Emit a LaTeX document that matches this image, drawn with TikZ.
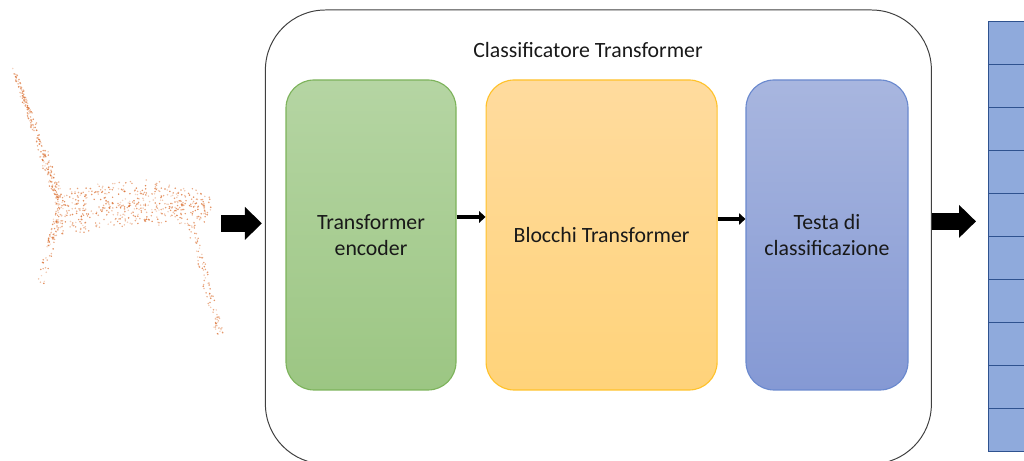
\documentclass[tikz,border=0pt]{standalone}
\usepackage{fontspec}
\setmainfont{Carlito}
\usepackage{tikz}
\usetikzlibrary{arrows.meta,positioning,calc}

\definecolor{encfill1}{HTML}{B5D5A3}
\definecolor{encfill2}{HTML}{9CC683}
\definecolor{encline}{HTML}{7DB35B}
\definecolor{blkfill1}{HTML}{FFDB9E}
\definecolor{blkfill2}{HTML}{FFD37A}
\definecolor{blkline}{HTML}{FFC22A}
\definecolor{headfill1}{HTML}{A8B6DF}
\definecolor{headfill2}{HTML}{8599D4}
\definecolor{headline}{HTML}{6A89CE}
\definecolor{cellfill}{HTML}{8FAADC}
\definecolor{cellline}{HTML}{2F528F}
\definecolor{dotc}{RGB}{218,112,50}

\begin{document}
\begin{tikzpicture}[
    outerbox/.style={draw=black!75, line width=0.7pt, rounded corners=1.5cm,
        minimum width=16.65cm, minimum height=11.35cm},
    block/.style={rounded corners=0.7cm, line width=0.8pt, minimum height=7.75cm,
        align=center, font=\fontsize{15.5}{19}\selectfont, text=black!90},
    cell/.style={draw=cellline, fill=cellfill, line width=0.7pt,
        minimum width=2cm, minimum height=1.075cm},
    bigarrow/.style={line width=0.425cm, -{Triangle[length=0.425cm, width=0.8cm]}},
    smallarrow/.style={line width=3.5pt, -{Triangle[length=4.5pt, width=8pt]}},
    dot/.style={fill=dotc}
]
    \useasboundingbox (0,0) rectangle (25.6,11.525);

    % point cloud (pixel-like units, y downwards)
    \begin{scope}[x=0.025cm, y=-0.025cm, shift={(0,-461)}]
        \pgfmathsetseed{4217}
        % backrest
        \foreach \k in {1,...,240}{
            \pgfmathsetmacro{\t}{rnd}
            \pgfmathsetmacro{\px}{14+48*\t+(2+5*\t)*(rand+rand)/2}
            \pgfmathsetmacro{\py}{70+137*\t+3*rand}
            \pgfmathsetmacro{\op}{0.25+0.6*rnd}
            \fill[dot, fill opacity=\op] (\px,\py) circle (0.6pt);
        }
        % seat
        \foreach \k in {1,...,520}{
            \pgfmathsetmacro{\u}{rnd}
            \pgfmathsetmacro{\ytop}{196-13*sin(180*\u)}
            \pgfmathsetmacro{\ybot}{238-15*\u-6*sin(180*\u)}
            \pgfmathsetmacro{\px}{55+155*\u+2*rand}
            \pgfmathsetmacro{\py}{\ytop+(\ybot-\ytop)*rnd+4*rand}
            \pgfmathsetmacro{\op}{0.25+0.6*rnd}
            \fill[dot, fill opacity=\op] (\px,\py) circle (0.6pt);
        }
        % front leg
        \foreach \k in {1,...,65}{
            \pgfmathsetmacro{\t}{rnd*rnd}
            \pgfmathsetmacro{\px}{56-18*\t+4*rand}
            \pgfmathsetmacro{\py}{220+75*\t+2*rand}
            \pgfmathsetmacro{\op}{0.25+0.6*rnd}
            \fill[dot, fill opacity=\op] (\px,\py) circle (0.6pt);
        }
        % back leg
        \foreach \k in {1,...,100}{
            \pgfmathsetmacro{\t}{rnd}
            \pgfmathsetmacro{\px}{190+30*\t+4*rand}
            \pgfmathsetmacro{\py}{222+112*\t+2*rand}
            \pgfmathsetmacro{\op}{0.25+0.6*rnd}
            \fill[dot, fill opacity=\op] (\px,\py) circle (0.6pt);
        }
    \end{scope}

    \node[outerbox] (outer) at (14.96,5.6) {};
    \node[font=\fontsize{15.5}{19}\selectfont, text=black!90] (title) at (14.7,10.275) {Classificatore Transformer};

    \node[block, draw=encline, top color=encfill1, bottom color=encfill2,
        minimum width=4.25cm] (enc) at (9.275,5.65) {Transformer\\encoder};
    \node[block, draw=blkline, top color=blkfill1, bottom color=blkfill2,
        minimum width=5.775cm] (blk) at (15.04,5.65) {Blocchi Transformer};
    \node[block, draw=headline, top color=headfill1, bottom color=headfill2,
        minimum width=4.05cm] (head) at (20.675,5.65) {Testa di\\classificazione};

    \draw[smallarrow] ([yshift=0.45cm]enc.east) -- ([yshift=0.45cm]blk.west);
    \draw[smallarrow] ([yshift=0.4cm]blk.east) -- ([yshift=0.4cm]head.west);

    % output column
    \foreach \i in {1,...,10}
        \node[cell, anchor=north west] (cell\i) at (24.7,{11.0-(\i-1)*1.075}) {};

    \coordinate (cloud) at (5.525,5.94);
    \draw[bigarrow, shorten >=0.075cm] (cloud) -- (cloud -| outer.west);
    \draw[bigarrow, shorten >=0.3cm] ([yshift=0.39cm]outer.east) -- ([yshift=0.39cm]outer.east -| cell1.west);
\end{tikzpicture}
\end{document}
